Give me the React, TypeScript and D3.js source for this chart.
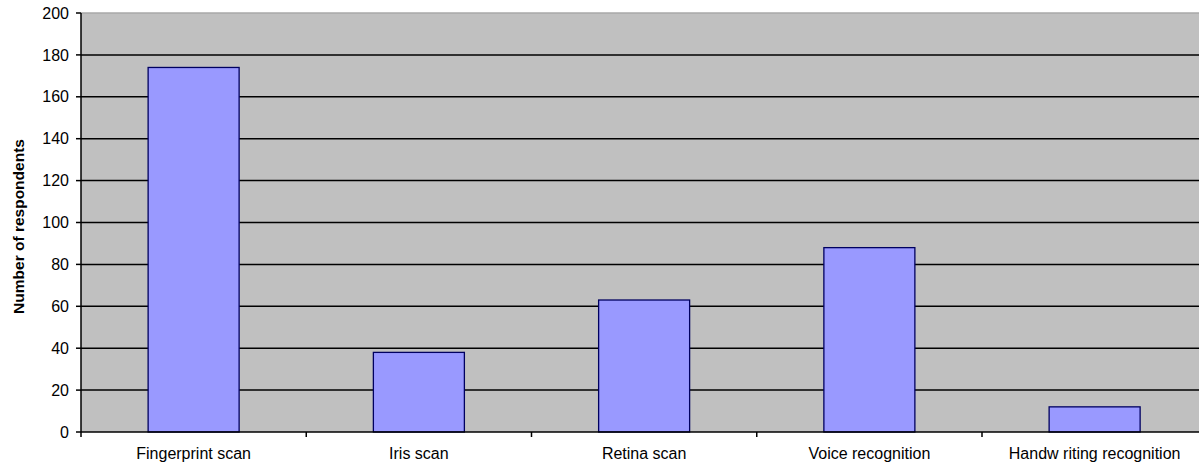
import React from "react";
import * as d3 from "d3";

const categories = ["Fingerprint scan", "Iris scan", "Retina scan", "Voice recognition", "Handw riting recognition"];
const values = [174, 38, 63, 88, 12];
const yTicks = [0, 20, 40, 60, 80, 100, 120, 140, 160, 180, 200];

export default function App() {
  const W = 1199, H = 465;
  const left = 81, top = 13, bottom = 432;
  const bandW = 225.25;
  const right = left + bandW * categories.length;
  const x = d3.scaleBand<string>().domain(categories).range([left, right]).paddingInner(0.596).paddingOuter(0.298);
  const y = d3.scaleLinear().domain([0, 200]).range([bottom, top]);
  const font = "'Liberation Sans', Arial, sans-serif";
  return (
    <svg width={W} height={H} style={{ position: "absolute", left: 0, top: 0 }}>
      <rect x={0} y={0} width={W} height={H} fill="#fff" />
      <rect x={left} y={top} width={right - left} height={bottom - top} fill="#c0c0c0" />
      <line x1={left} x2={right} y1={top} y2={top} stroke="#a8a8a8" strokeWidth={1.5} />
      {yTicks.filter(t => t > 0 && t < 200).map(t => (
        <line key={t} x1={left} x2={right} y1={y(t)} y2={y(t)} stroke="#000" strokeWidth={1.5} />
      ))}
      {categories.map((c, i) => (
        <rect key={c} x={x(c)} y={y(values[i])} width={x.bandwidth()} height={bottom - y(values[i])}
          fill="#9999ff" stroke="#000060" strokeWidth={1.3} />
      ))}
      <line x1={left} x2={left} y1={top} y2={bottom} stroke="#000" strokeWidth={1.5} />
      <line x1={left} x2={right} y1={bottom} y2={bottom} stroke="#000" strokeWidth={1.5} />
      {yTicks.map(t => (
        <g key={t}>
          <line x1={left - 5} x2={left} y1={y(t)} y2={y(t)} stroke="#000" strokeWidth={1.5} />
          <text x={left - 12} y={y(t)} dy="0.35em" textAnchor="end" fontFamily={font} fontSize={16} fill="#000">{t}</text>
        </g>
      ))}
      {d3.range(categories.length + 1).map(i => (
        <line key={i} x1={left + i * bandW} x2={left + i * bandW} y1={bottom} y2={bottom + 5} stroke="#000" strokeWidth={1.5} />
      ))}
      {categories.map(c => (
        <text key={c} x={(x(c) as number) + x.bandwidth() / 2} y={bottom + 27} textAnchor="middle" fontFamily={font} fontSize={16} fill="#000">{c}</text>
      ))}
      <text transform={`translate(24, ${(top + bottom) / 2 + 4}) rotate(-90)`} textAnchor="middle" fontFamily={font} fontSize={15.5} fontWeight="bold" fill="#000">Number of respondents</text>
    </svg>
  );
}
